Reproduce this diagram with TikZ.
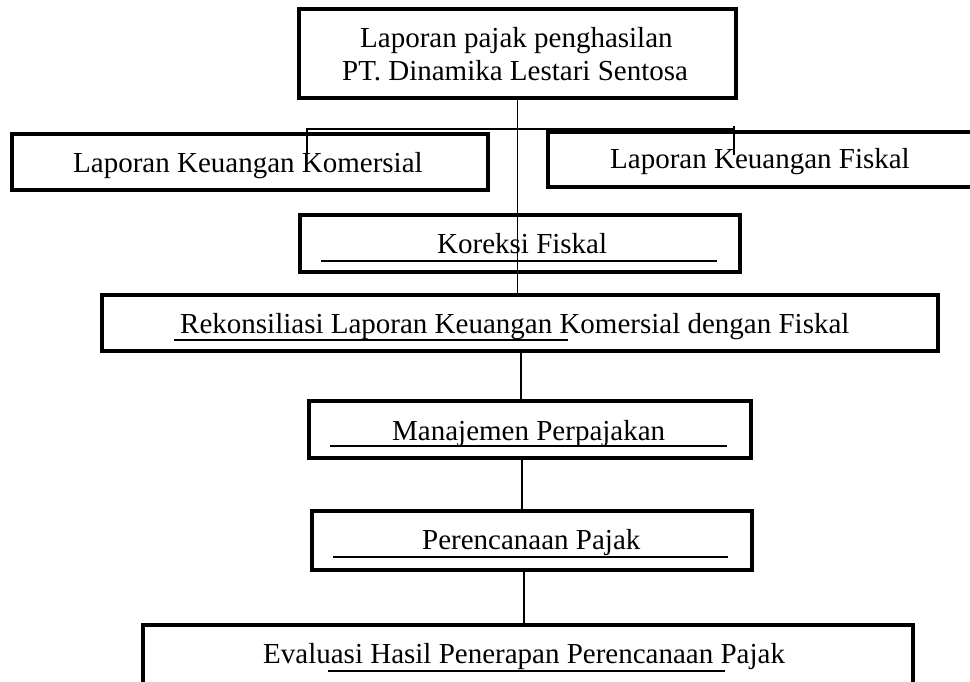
\documentclass[tikz,border=0pt]{standalone}
\usepackage{fontspec}
\setmainfont{Liberation Serif}
\begin{document}
\begin{tikzpicture}[x=1pt,y=-1pt,
  boxnode/.style={draw=black,line width=4pt,rectangle,inner sep=0pt,fill=white},
  txt/.style={anchor=base west,inner sep=0pt,font=\fontsize{29pt}{33pt}\selectfont},
  conn/.style={draw=black,line width=1.3pt},
  uline/.style={draw=black,line width=1.5pt}]
\useasboundingbox (0,0) rectangle (970,681);
\clip (0,0) rectangle (970,681);
\fill[white] (0,0) rectangle (970,681);
% boxes
\node[boxnode,minimum width=437pt,minimum height=89pt] (top) at (517.5,53.5) {};
\node[boxnode,minimum width=476pt,minimum height=56pt] (left) at (250,162) {};
\node[boxnode,minimum width=452pt,minimum height=55pt] (right) at (774,159.5) {};
\node[boxnode,minimum width=440pt,minimum height=57pt] (kor) at (520,243.5) {};
\node[boxnode,minimum width=836pt,minimum height=56pt] (rek) at (520,323) {};
\node[boxnode,minimum width=442pt,minimum height=57pt] (man) at (530,429.5) {};
\node[boxnode,minimum width=440pt,minimum height=59pt] (per) at (532,540.5) {};
\node[boxnode,minimum width=770pt,minimum height=95pt] (eva) at (528,672.5) {};
% texts
\node[txt] (t1a) at (360,47) {Laporan pajak penghasilan};
\node[txt] (t1b) at (342,80) {PT. Dinamika Lestari Sentosa};
\node[txt] (t2) at (73,172) {Laporan Keuangan Komersial};
\node[txt] (t3) at (610,168) {Laporan Keuangan Fiskal};
\node[txt] (t4) at (437,253) {Koreksi Fiskal};
\node[txt] (t5) at (180,333) {Rekonsiliasi Laporan Keuangan Komersial dengan Fiskal};
\node[txt] (t6) at (392,440) {Manajemen Perpajakan};
\node[txt] (t7) at (422,549) {Perencanaan Pajak};
\node[txt] (t8) at (263,663) {Evaluasi Hasil Penerapan Perencanaan Pajak};
% underlines
\draw[uline] (321,261) -- (717,261);
\draw[uline] (174,340) -- (568,340);
\draw[uline] (330,446) -- (727,446);
\draw[uline] (333,557) -- (728,557);
\draw[uline] (328,671) -- (725,671);
% connectors
\coordinate (hL) at (307,129);
\coordinate (hR) at (734,129);
\coordinate (tL) at (307,153);
\coordinate (tRa) at (734,126);
\coordinate (tRb) at (734,155);
\coordinate (v2) at (521,0);
\coordinate (v3) at (522,0);
\coordinate (v4) at (524,0);
\draw[conn] (top.south) -- (top.south |- rek.north);
\draw[conn] (tL) -- (hL) -- (hR);
\draw[conn] (tRa) -- (tRb);
\draw[conn] (rek.south -| v2) -- (man.north -| v2);
\draw[conn] (man.south -| v3) -- (per.north -| v3);
\draw[conn] (per.south -| v4) -- (eva.north -| v4);
\end{tikzpicture}
\end{document}
